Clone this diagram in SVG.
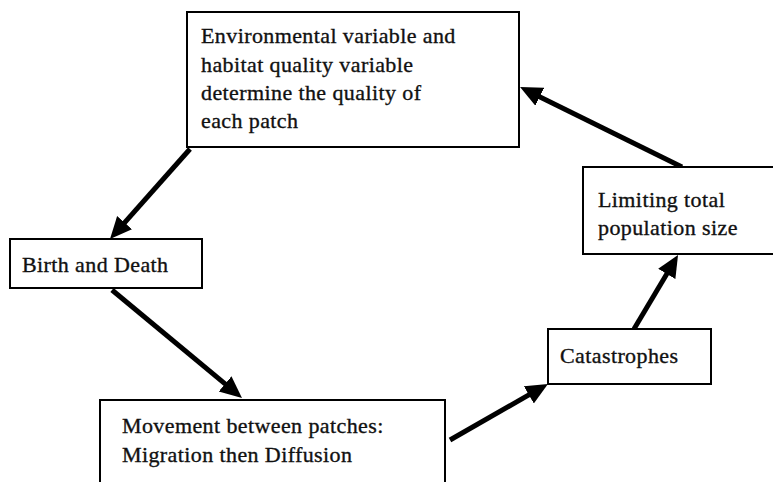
<svg xmlns="http://www.w3.org/2000/svg" width="773" height="482" viewBox="0 0 773 482">
<style>
.box{fill:#fff;stroke:#000;stroke-width:2}
.t{font-family:"Liberation Serif","Times New Roman",serif;font-size:22px;letter-spacing:0.4px;fill:#111;stroke:#111;stroke-width:0.35}
.c{stroke:#000;stroke-width:5;fill:none;marker-end:url(#ah)}
</style>
<defs>
<marker id="ah" markerUnits="userSpaceOnUse" markerWidth="23" markerHeight="21" refX="2" refY="10" orient="auto">
<path d="M0,0 L22,10 L0,20 Z" fill="#000"/>
</marker>
</defs>
<rect width="773" height="482" fill="#fff"/>
<g id="connectors">
<line class="c" x1="190" y1="149" x2="123.3" y2="224.1"/>
<line class="c" x1="112" y1="290" x2="226.6" y2="385.2"/>
<line class="c" x1="450" y1="440" x2="530.6" y2="393.9"/>
<line class="c" x1="634" y1="329" x2="667.8" y2="272.2"/>
<line class="c" x1="682" y1="167" x2="538" y2="95.9"/>
</g>
<g id="quality">
<rect class="box" x="187" y="12" width="332" height="135"/>
<text class="t" x="201" y="43">Environmental variable and</text>
<text class="t" x="201" y="72">habitat quality variable</text>
<text class="t" x="201" y="100">determine the quality of</text>
<text class="t" x="201" y="128">each patch</text>
</g>
<g id="birth">
<rect class="box" x="10" y="239" width="192" height="49"/>
<text class="t" x="22" y="272">Birth and Death</text>
</g>
<g id="movement">
<rect class="box" x="100" y="400" width="345" height="90"/>
<text class="t" x="122" y="433">Movement between patches:</text>
<text class="t" x="122" y="462">Migration then Diffusion</text>
</g>
<g id="catastrophes">
<rect class="box" x="548" y="329" width="163" height="55"/>
<text class="t" x="560" y="363">Catastrophes</text>
</g>
<g id="limiting">
<rect class="box" x="583" y="167" width="192" height="87"/>
<text class="t" x="598" y="207">Limiting total</text>
<text class="t" x="598" y="235">population size</text>
</g>
</svg>
